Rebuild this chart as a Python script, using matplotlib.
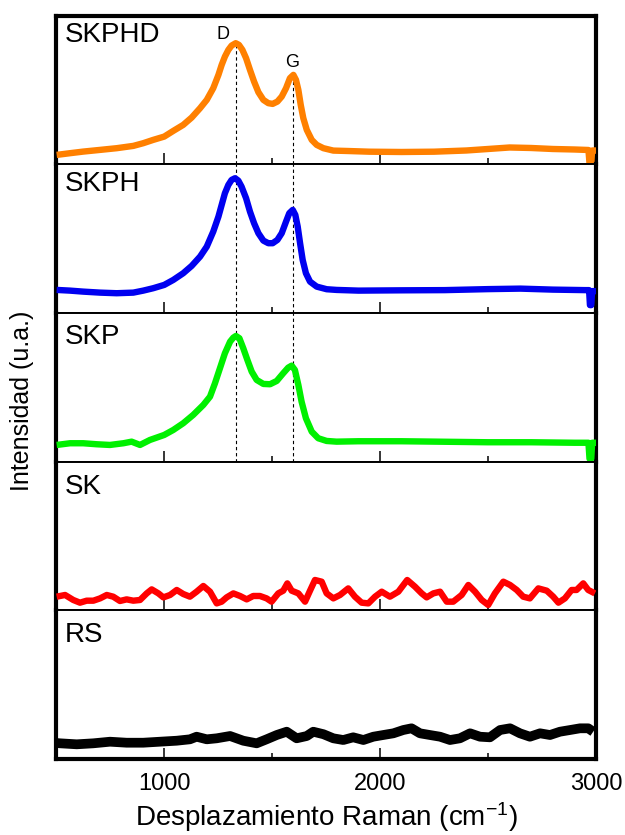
import matplotlib
matplotlib.use("Agg")
import matplotlib.pyplot as plt
from matplotlib.ticker import FixedLocator

plt.rcParams['font.family'] = ['Liberation Sans', 'DejaVu Sans']
plt.rcParams['mathtext.fontset'] = 'custom'
plt.rcParams['mathtext.rm'] = 'Liberation Sans'
plt.rcParams['mathtext.it'] = 'Liberation Sans'

labels = ["SKPHD", "SKPH", "SKP", "SK", "RS"]
colors = ["#FF8000", "#0000F0", "#00F000", "#FF0000", "#000000"]

skphd_x = [503, 565, 626, 704, 781, 858, 904, 950, 1001, 1043, 1089, 1128, 1167, 1198, 1228, 1252,
           1267, 1282, 1298, 1313, 1332, 1347, 1363, 1380, 1398, 1417, 1437, 1460, 1483, 1503, 1525,
           1545, 1565, 1583, 1599, 1611, 1622, 1633, 1645, 1661, 1684, 1707, 1738, 1784, 1850, 1950,
           2100, 2250, 2400, 2500, 2600, 2700, 2800, 2900, 2965, 2970, 2978, 2982, 3000]
skphd_y = [9.6, 11.3, 12.9, 14.6, 16.3, 18.6, 21.3, 24.6, 27.9, 33.6, 39.6, 46.9, 56.3, 64.6, 76.3, 89.6,
           99.6, 107.9, 114.6, 118.9, 121.3, 119.6, 114.6, 106.3, 94.6, 82.9, 72.3, 64.6, 61.3, 60.6, 62.9,
           67.9, 76.3, 86.3, 89.6, 84.6, 74.6, 59.6, 46.3, 34.6, 24.6, 19.6, 16.3, 13.9, 13.5, 12.8,
           12.5, 12.8, 14, 15.5, 17, 16.5, 15.5, 15, 14.5, 1, 1, 14, 14]

skph_x = [503, 565, 626, 704, 781, 858, 904, 950, 1001, 1043, 1089, 1128, 1167, 1198, 1228, 1252,
          1267, 1282, 1298, 1313, 1329, 1344, 1359, 1380, 1398, 1417, 1437, 1460, 1483, 1503, 1525,
          1545, 1565, 1580, 1596, 1608, 1619, 1630, 1642, 1657, 1676, 1707, 1753, 1799, 1900, 2100,
          2300, 2500, 2650, 2800, 2950, 2968, 2972, 2978, 2982, 3000]
skph_y = [23.2, 22.5, 21.5, 20.5, 19.9, 20.5, 22.5, 24.9, 28.2, 33.2, 39.9, 47.2, 56.5, 66.5, 81.5, 96.5,
          108.2, 119.9, 128.2, 133.2, 134.9, 132.5, 126.5, 114.9, 101.5, 89.9, 79.9, 72.5, 69.9, 69.9, 73.2,
          79.9, 91.5, 99.9, 103.2, 98.2, 86.5, 69.9, 53.2, 39.9, 31.5, 26.5, 23.9, 23.2, 22.5, 22.8,
          23, 24, 24.5, 23.5, 23, 23, 8, 8, 22, 22]

skp_x = [503, 565, 626, 688, 750, 812, 850, 889, 935, 1001, 1043, 1089, 1135, 1182, 1213, 1236,
         1259, 1282, 1306, 1321, 1333, 1349, 1367, 1386, 1406, 1429, 1460, 1491, 1522, 1552, 1575,
         1591, 1606, 1622, 1637, 1657, 1684, 1714, 1753, 1799, 1900, 2100, 2300, 2500, 2700, 2900,
         2965, 2970, 2978, 2982, 3000]
skp_y = [16.8, 18.5, 18.5, 17.5, 16.8, 18.5, 20.1, 16.8, 21.8, 26.8, 31.8, 38.5, 46.8, 56.8, 65.1, 78.5,
         93.5, 108.5, 120.1, 124.1, 125.8, 123.5, 113.5, 101.8, 90.1, 81.8, 77.8, 77.5, 80.8, 88.5, 94.1,
         96.1, 91.8, 76.8, 60.1, 43.5, 30.1, 23.5, 20.8, 20.1, 20.5, 20.5, 20, 19.5, 19.5, 19,
         19, 3, 3, 19, 19]

sk_x = [503, 542, 580, 611, 642, 673, 704, 735, 765, 796, 827, 858, 889, 920, 943, 974, 997, 1028,
        1059, 1089, 1120, 1151, 1182, 1213, 1244, 1267, 1290, 1321, 1352, 1383, 1413, 1444, 1475,
        1498, 1529, 1552, 1571, 1591, 1622, 1653, 1676, 1699, 1730, 1753, 1784, 1815, 1853, 1884,
        1915, 1946, 1977, 2008, 2046, 2085, 2126, 2162, 2193, 2216, 2247, 2278, 2309, 2339, 2378,
        2409, 2440, 2471, 2501, 2532, 2571, 2602, 2633, 2663, 2694, 2733, 2772, 2802, 2826, 2856,
        2887, 2910, 2941, 2964, 2995]
sk_y = [13.7, 15.4, 10.4, 7.7, 9.7, 9.7, 12, 15.4, 13.7, 9.4, 11, 9.7, 10.4, 17, 21, 17, 13, 15.4,
        20.4, 16.4, 13.7, 18.7, 24.4, 18.7, 7, 8.7, 13, 17, 14.4, 11, 14.4, 14.4, 12,
        8.7, 17, 19.7, 27, 19.7, 17, 8.7, 19.7, 30.4, 28.7, 17, 12, 15.4, 22, 13.7,
        7.7, 7, 13.7, 18.7, 13.7, 18.7, 30.4, 23.7, 17, 13, 17, 18.7, 8.7, 8.7, 15.4,
        25.4, 18.7, 10.4, 5.4, 17, 28.7, 25.4, 20.4, 13.7, 12, 22, 19.7, 13.7, 7.7, 12,
        20.4, 20.4, 27, 20.4, 17]

rs_x = [503, 519, 596, 673, 750, 827, 904, 981, 1059, 1120, 1151, 1198, 1244, 1306, 1367, 1429, 1475,
        1522, 1568, 1614, 1661, 1691, 1738, 1784, 1830, 1876, 1923, 1969, 2015, 2062, 2108, 2146,
        2185, 2231, 2278, 2324, 2370, 2417, 2463, 2509, 2556, 2602, 2648, 2694, 2741, 2787, 2833,
        2880, 2926, 2964, 2987]
rs_y = [16, 15.7, 14.7, 15.7, 17.3, 16.3, 16.3, 17.3, 18.3, 19.7, 22.3, 19.7, 20.7, 23, 18.3, 15.7, 19.7,
        24, 27.3, 20.7, 23, 27.3, 24.8, 20.7, 19, 21.7, 19, 22.3, 24, 25.7, 29, 30.7,
        25.7, 24, 22.3, 19, 20.7, 25.7, 22.3, 21.7, 29, 30.7, 25.7, 22.3, 25.7, 24, 27.3,
        29, 30.7, 30.7, 27.3]

series_x = [skphd_x, skph_x, skp_x, sk_x, rs_x]
series_y = [skphd_y, skph_y, skp_y, sk_y, rs_y]
linewidths = [4.6, 4.6, 4.6, 4.6, 7]
label_ypos = [0.868, 0.868, 0.84, 0.83, 0.835]

d_pos, g_pos = 1332, 1598
d_top, g_top = 121, 89

fig, axes = plt.subplots(5, 1, sharex=True, figsize=(6.25, 8.35), dpi=100)
fig.subplots_adjust(left=0.0896, right=0.9536, top=0.981, bottom=0.091, hspace=0)

for i, ax in enumerate(axes):
    ax.plot(series_x[i], series_y[i], color=colors[i], lw=linewidths[i],
            solid_joinstyle='round', solid_capstyle='butt', zorder=3)
    ax.set_xlim(500, 3000)
    ax.set_ylim(0, 148.6)
    ax.set_yticks([])
    ax.xaxis.set_major_locator(FixedLocator([1000, 2000, 3000]))
    ax.xaxis.set_minor_locator(FixedLocator([1500, 2500]))
    ax.tick_params(axis='x', which='major', direction='in', length=8, width=1.1,
                   top=False, bottom=True, labelsize=17, pad=10)
    ax.tick_params(axis='x', which='minor', direction='in', length=4.3, width=1.1,
                   top=False, bottom=True)
    ax.spines['left'].set_linewidth(3)
    ax.spines['right'].set_linewidth(3)
    ax.spines['top'].set_linewidth(3 if i == 0 else 1.4)
    ax.spines['bottom'].set_linewidth(3 if i == 4 else 1.4)
    ax.text(0.017, label_ypos[i], labels[i], transform=ax.transAxes, fontsize=20,
            ha='left', va='center')
    if i < 4:
        ax.tick_params(axis='x', labelbottom=False)

dash = dict(color='black', lw=0.8, linestyle=(0, (3, 2.5)), zorder=2)
axes[0].vlines([d_pos, g_pos], 0, [d_top, g_top], **dash)
for ax in axes[1:3]:
    ax.axvline(d_pos, **dash)
    ax.axvline(g_pos, **dash)

axes[0].text(1273, 130, "D", fontsize=13, ha='center', va='center')
axes[0].text(1593, 102, "G", fontsize=13, ha='center', va='center')

fig.text(0.035, 0.52, "Intensidad (u.a.)", rotation=90, fontsize=18,
         ha='center', va='center')
fig.text(0.5216, 0.022, "Desplazamiento Raman (cm$^{-1}$)", fontsize=20,
         ha='center', va='center')

fig.savefig("out.png", dpi=100)
